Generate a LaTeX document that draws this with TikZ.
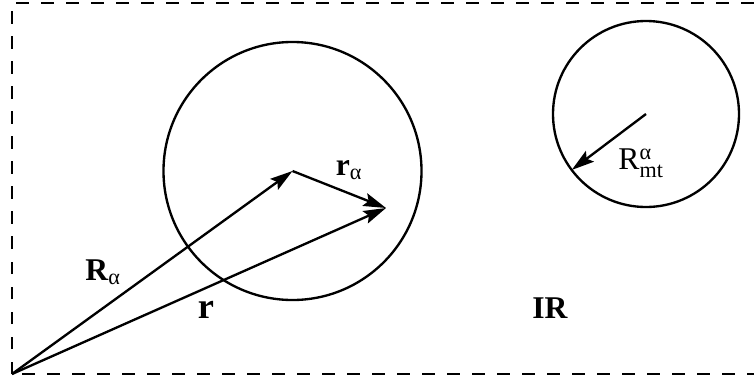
\documentclass[tikz,border=0pt]{standalone}
\usepackage{amsmath}
\usepackage{fontspec}
\setmainfont{Liberation Serif}
\usetikzlibrary{arrows.meta,positioning}
\tikzstyle{vec}=[-{Stealth[length=0.68cm,width=0.4cm,inset=0.12cm]},line width=2pt]
\tikzstyle{sphere}=[circle,draw,line width=2pt,inner sep=0pt,outer sep=0pt]
\tikzstyle{lab}=[inner sep=0pt,font=\fontsize{27}{30}\selectfont]
\tikzstyle{cell}=[line width=2pt,dash pattern=on 0.375cm off 0.375cm]

\begin{document}
\begin{tikzpicture}[x=0.03cm,y=-0.03cm]
\useasboundingbox (0,0) rectangle (754,385);
\clip (0,0) rectangle (754,385);
% unit cell, open on the right
\draw [cell] (12,374) -- (12,3) -- (790,3) -- (790,374) -- cycle;
% atomic sphere and muffin-tin sphere
\coordinate (O) at (12,374);
\node (big) [sphere, minimum size=7.74cm] at (292.5,171) {};
\node (small) [sphere, minimum size=5.58cm] at (646,114) {};
\coordinate (P) at (386,208);
% vectors
\draw [vec] (O) -- (big.center);
\draw [vec] (big.center) -- (P);
\draw [vec] (O) -- (P);
\draw [vec] (small.center) -- (small.217.5);
% labels
\node (ralpha) [lab] at (349,170) {\textbf{r}$_{\text{α}}$};
\node (Ralpha) [lab] at (103,272) {\textbf{R}$_{\text{α}}$};
\node (rvec) [lab, font=\fontsize{31}{34}\selectfont] at (206,310) {\textbf{r}};
\node (IR) [lab] at (550,308) {\textbf{IR}};
\node (Rmt) [lab] at (641,163) {R$^{\text{α}}_{\text{mt}}$};
\end{tikzpicture}
\end{document}
